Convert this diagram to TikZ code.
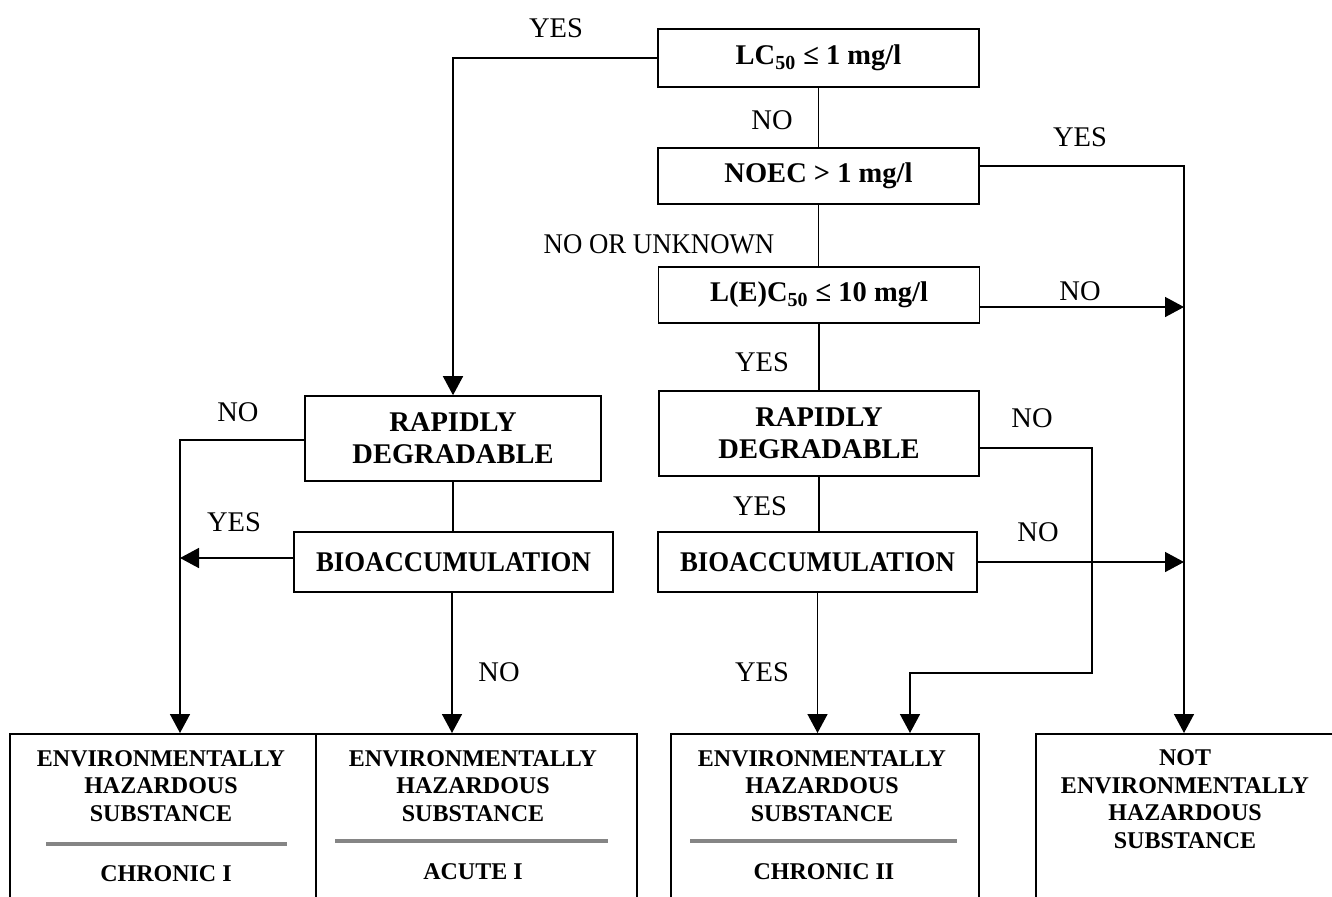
\documentclass[tikz,border=0pt]{standalone}
\usepackage{fontspec}
\setmainfont{Liberation Serif}
\newfontfamily\condfont{Liberation Serif}[FakeStretch=0.94]
\usetikzlibrary{arrows.meta,calc}
\begin{document}
\begin{tikzpicture}[x=0.5pt,y=-0.5pt,
  box/.style={draw,line width=0.8pt,inner sep=0pt,align=center,
    font=\bfseries\fontsize{14.25}{15.85}\selectfont},
  condbox/.style={box,font=\condfont\bfseries\fontsize{14.25}{15.85}\selectfont},
  lbl/.style={inner sep=0pt,font=\fontsize{14.25}{16}\selectfont},
  condlbl/.style={inner sep=0pt,font=\condfont\fontsize{14.25}{16}\selectfont},
  conn/.style={line width=0.75pt},
  arr/.style={conn,-{Triangle[length=9.5pt,width=10pt]}},
  res/.style={draw,line width=0.8pt,inner sep=0pt,anchor=north west,minimum height=83.5pt},
  restext/.style={inner sep=0pt,align=center,font=\bfseries\fontsize{12}{13.75}\selectfont},
  hrule/.style={draw=black!48,line width=2pt}
]
\useasboundingbox (0,0) rectangle (1332,896);
\clip (0,0) rectangle (1332,896);
\fill[white] (0,0) rectangle (1332,896);

% decision boxes
\node[box,minimum width=160.5pt,minimum height=29pt] (lc) at (818.5,58) {LC\textsubscript{50} ≤ 1 mg/l};
\node[box,minimum width=160.5pt,minimum height=28pt] (noec) at (818.5,176) {NOEC > 1 mg/l};
\node[box,minimum width=160.5pt,minimum height=28pt] (lec) at (819,295) {L(E)C\textsubscript{50} ≤ 10 mg/l};
\node[box,minimum width=160pt,minimum height=42.5pt] (rdR) at (819,433.5) {RAPIDLY\\DEGRADABLE};
\node[condbox,minimum width=159.5pt,minimum height=30pt] (bioR) at (817.5,562) {BIOACCUMULATION};
\node[box,minimum width=148pt,minimum height=42.5pt] (rdL) at (453,438.5) {RAPIDLY\\DEGRADABLE};
\node[condbox,minimum width=159.5pt,minimum height=30pt] (bioL) at (453.5,562) {BIOACCUMULATION};

% result boxes
\node[res,minimum width=153pt] (b1) at (9,733) {};
\node[res,minimum width=160.5pt] (b2) at (315,733) {};
\node[res,minimum width=154pt] (b3) at (670,733) {};
\node[res,minimum width=155pt] (b4) at (1035,733) {};

\node[restext] (t1) at (161,786) {ENVIRONMENTALLY\\HAZARDOUS\\SUBSTANCE};
\node[restext] (t2) at (473,786) {ENVIRONMENTALLY\\HAZARDOUS\\SUBSTANCE};
\node[restext] (t3) at (822,786) {ENVIRONMENTALLY\\HAZARDOUS\\SUBSTANCE};
\node[restext] (t4) at (1185,799) {NOT\\ENVIRONMENTALLY\\HAZARDOUS\\SUBSTANCE};
\node[restext] (c1) at (166,874) {CHRONIC I};
\node[restext] (c2) at (473,872) {ACUTE I};
\node[restext] (c3) at (824,872) {CHRONIC II};
\draw[hrule] (46,844) -- (287,844);
\draw[hrule] (335,841) -- (608,841);
\draw[hrule] (690,841) -- (957,841);

% helper coordinates
\coordinate (top1) at (180,733);
\coordinate (top4) at (1184,733);
\coordinate (j1) at (1184,307);
\coordinate (j2) at (1184,562);
\coordinate (j3) at (180,558);
\coordinate (k1) at (1092,673);
\coordinate (k2) at (910,673);

% connectors
\draw[arr] (lc.west) -| (rdL.north);
\draw[conn] (lc.south) -- (lc.south |- noec.north);
\draw[arr] ([yshift=5pt]noec.east) -| (top4);
\draw[conn] (noec.south) -- (noec.south |- lec.north);
\draw[arr] ([yshift=-6pt]lec.east) -- (j1);
\draw[conn] (lec.south) -- (lec.south |- rdR.north);
\draw[arr] ([yshift=-7.25pt]rdR.east) -| (k1) -- (k2) -- (k2 |- b3.north);
\draw[conn] (rdR.south) -- (rdR.south |- bioR.north);
\draw[arr] (bioR.east) -- (bioR.east -| j2);
\draw[arr] (bioR.south) -- (bioR.south |- b3.north);
\draw[arr] ([yshift=-0.75pt]rdL.west) -| (top1);
\draw[conn] (rdL.south) -- (rdL.south |- bioL.north);
\draw[arr] ([yshift=2pt]bioL.west) -- (j3);
\draw[arr] ([xshift=-0.75pt]bioL.south) -- ([xshift=-0.75pt]bioL.south |- b2.north);

% labels
\node[lbl] (l1) at (556,28) {YES};
\node[lbl] (l2) at (772,120) {NO};
\node[lbl] (l3) at (1080,137) {YES};
\node[condlbl] (l4) at (659,244) {NO OR UNKNOWN};
\node[lbl] (l5) at (1080,291) {NO};
\node[lbl] (l6) at (762,362) {YES};
\node[lbl] (l7) at (1032,418) {NO};
\node[lbl] (l8) at (760,506) {YES};
\node[lbl] (l9) at (1038,532) {NO};
\node[lbl] (l10) at (762,672) {YES};
\node[lbl] (l11) at (238,412) {NO};
\node[lbl] (l12) at (234,522) {YES};
\node[lbl] (l13) at (499,672) {NO};
\end{tikzpicture}
\end{document}
